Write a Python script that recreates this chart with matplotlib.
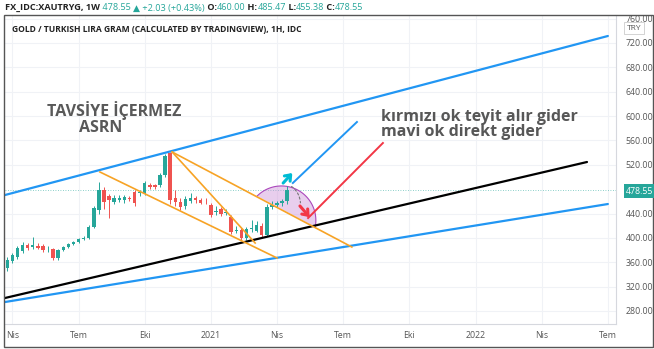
import matplotlib
matplotlib.use("Agg")
import matplotlib.pyplot as plt
import numpy as np
import pandas as pd
from matplotlib.patches import Polygon, Rectangle

# ---------------- data ----------------
first_week = "2020-03-30"
opens  = [350, 362, 369, 379, 388, 385, 387, 387, 381, 381, 367, 380, 385, 390, 393, 398,
          400, 418, 445, 478, 468, 459, 463, 462, 466, 475, 473, 474, 487, 487, 487, 503,
          539, 465, 459, 452, 461, 466, 463, 461, 454, 443, 448, 441, 434, 412, 413, 400,
          415, 412, 420, 405, 451, 454, 457, 460.00]
closes = [364, 372, 383, 388, 383, 388, 384, 380, 382, 367, 380, 385, 390, 393, 398, 400,
          418, 449, 478, 459, 462, 465, 466, 467, 464, 457, 476, 490, 484, 484, 503, 534,
          462, 459, 451, 464, 466, 462, 458, 460, 438, 444, 440, 443, 410, 413, 400, 415,
          416, 421, 405, 451, 454, 457, 460, 478.55]
highs  = [368, 376, 387, 393, 391, 401, 392, 390, 386, 383, 382, 387, 392, 395, 400, 403,
          421, 452, 492, 483, 472, 470, 470, 471, 469, 478, 479, 494, 490, 489, 506, 537,
          541, 478, 466, 468, 474, 469, 466, 465, 457, 452, 451, 448, 437, 420, 416, 418,
          430, 428, 425, 455, 460, 461, 464, 485.47]
lows   = [346, 358, 366, 376, 380, 382, 381, 377, 377, 363, 364, 378, 383, 388, 391, 396,
          398, 416, 440, 448, 433, 455, 459, 458, 460, 452, 468, 471, 480, 481, 484, 500,
          455, 452, 446, 448, 457, 458, 455, 455, 434, 438, 436, 437, 407, 408, 396, 397,
          410, 409, 402, 403, 447, 450, 453, 455.38]

ytick_values = [280, 320, 360, 400, 440, 520, 560, 600, 640, 680, 720, 760]
xtick_dates = ["2020-04-06", "2020-07-06", "2020-10-05", "2021-01-04", "2021-04-05",
               "2021-07-05", "2021-10-04", "2022-01-03", "2022-04-04", "2022-07-04"]
xtick_labels = ["Nis", "Tem", "Eki", "2021", "Nis", "Tem", "Eki", "2022", "Nis", "Tem"]

# drawn trend lines: (week index, price) end points
upper_channel_week, upper_channel_price = [-0.45, 118.0], [470.4, 731.5]
lower_channel_week, lower_channel_price = [-0.45, 118.0], [294.7, 455.6]
black_trend_week, black_trend_price = [-0.45, 113.9], [301.3, 524.6]
orange1_week, orange1_price = [18.2, 53.0], [508.2, 367.0]
orange2_week, orange2_price = [32.4, 67.7], [541.0, 385.0]
orange3_week, orange3_price = [32.4, 48.7], [541.0, 391.6]
blue_target_week, blue_target_price = [56.1, 68.7], [490.1, 590.3]
red_target_week, red_target_price = [59.1, 73.8], [432.6, 555.8]
# arc: start, top, end
arc_week, arc_price = [49.1, 55.5, 60.5], [468.8, 483.6, 417.9]
cyan_arrow_week, cyan_arrow_price = [54.2, 56.0], [490.0, 506.5]
red_arrow_week, red_arrow_price = [57.5, 59.4], [452.4, 434.0]
dotted_week, dotted_price = [55.4, 57.6], [487.0, 453.0]

last_price = 478.55

# ---------------- figure ----------------
W, H = 654, 349
fig = plt.figure(figsize=(W / 100, H / 100), dpi=100)
fig.patch.set_facecolor("white")
FAM = ["Open Sans", "DejaVu Sans"]

ax_l, ax_r, ax_t, ax_b = 5, 616, 15, 324
ax = fig.add_axes([ax_l / W, 1 - ax_b / H, (ax_r - ax_l) / W, (ax_b - ax_t) / H])
ax.set_xlim(-0.45, 119.6)
ax.set_ylim(720 - (ax_b - 43) * 1.642, 720 + (43 - ax_t) * 1.642)

start = pd.Timestamp(first_week)
xt = [(pd.Timestamp(d) - start).days / 7 for d in xtick_dates]

# grid
for v in ytick_values:
    ax.axhline(v, color="#f0f2f6", lw=0.8, zorder=0)
for x in xt:
    ax.axvline(x, color="#f0f2f6", lw=0.8, zorder=0)

# candles
n = len(opens)
idx = np.arange(n)
o = np.array(opens); c = np.array(closes); hi = np.array(highs); lo = np.array(lows)
up = c >= o
cols = np.where(up, "#26a69a", "#ef5350")
ax.vlines(idx, lo, hi, colors=cols, lw=0.7, zorder=3)
body_h = np.maximum(np.abs(c - o), 1.2)
ax.bar(idx, body_h, bottom=np.minimum(o, c), width=0.68, color=cols, zorder=4, linewidth=0)

# price line
ax.axhline(last_price, color="#26a69a", lw=0.6, ls=(0, (1, 2)), alpha=0.7, zorder=1)

# trend lines
ax.plot(upper_channel_week, upper_channel_price, color="#2196f3", lw=1.6, zorder=5, solid_capstyle="round")
ax.plot(lower_channel_week, lower_channel_price, color="#2196f3", lw=1.6, zorder=5, solid_capstyle="round")
ax.plot(black_trend_week, black_trend_price, color="#000000", lw=1.6, zorder=5, solid_capstyle="round")
for wk, pr in [(orange1_week, orange1_price), (orange2_week, orange2_price), (orange3_week, orange3_price)]:
    ax.plot(wk, pr, color="#f7a325", lw=1.2, zorder=5)
ax.plot(blue_target_week, blue_target_price, color="#2196f3", lw=1.4, zorder=6)
ax.plot(red_target_week, red_target_price, color="#f23645", lw=1.4, zorder=6)

# arc region (circle through three points, in display space)
P = ax.transData.transform(np.column_stack([arc_week, arc_price]))
(ax1, ay1), (bx, by), (cx, cy) = P
d = 2 * (ax1 * (by - cy) + bx * (cy - ay1) + cx * (ay1 - by))
ux = ((ax1**2 + ay1**2) * (by - cy) + (bx**2 + by**2) * (cy - ay1) + (cx**2 + cy**2) * (ay1 - by)) / d
uy = ((ax1**2 + ay1**2) * (cx - bx) + (bx**2 + by**2) * (ax1 - cx) + (cx**2 + cy**2) * (bx - ax1)) / d
rad = np.hypot(ax1 - ux, ay1 - uy)
a_start = np.arctan2(ay1 - uy, ax1 - ux)
a_end = np.arctan2(cy - uy, cx - ux)
if a_end > a_start:
    a_end -= 2 * np.pi
ang = np.linspace(a_start, a_end, 100)
pts = np.column_stack([ux + rad * np.cos(ang), uy + rad * np.sin(ang)])
pts_d = ax.transData.inverted().transform(pts)
ax.add_patch(Polygon(pts_d, closed=True, facecolor="#ce93d8", alpha=0.45, edgecolor="none", zorder=2))
ax.plot(pts_d[:, 0], pts_d[:, 1], color="#ab47bc", lw=0.8, zorder=2)

# arrows
arrow_style = "->,head_length=0.45,head_width=0.35"
ax.annotate("", xy=(cyan_arrow_week[1], cyan_arrow_price[1]), xytext=(cyan_arrow_week[0], cyan_arrow_price[0]),
            arrowprops=dict(arrowstyle=arrow_style, color="#00bcd4", lw=2.2, mutation_scale=8,
                            shrinkA=0, shrinkB=0), zorder=7)
ax.annotate("", xy=(red_arrow_week[1], red_arrow_price[1]), xytext=(red_arrow_week[0], red_arrow_price[0]),
            arrowprops=dict(arrowstyle=arrow_style, color="#f23645", lw=2.2, mutation_scale=8,
                            shrinkA=0, shrinkB=0), zorder=7)
ax.annotate("", xy=(dotted_week[1], dotted_price[1]), xytext=(dotted_week[0], dotted_price[0]),
            arrowprops=dict(arrowstyle="-", color="#777777", lw=0.8, ls=(0, (2, 2)),
                            connectionstyle="arc3,rad=-0.3"), zorder=7)

# axes styling
for s in ["top", "left"]:
    ax.spines[s].set_visible(False)
for s in ["right", "bottom"]:
    ax.spines[s].set_color("#d6d8de")
    ax.spines[s].set_linewidth(0.8)
ax.yaxis.tick_right()
ax.set_yticks(ytick_values)
ax.set_yticklabels([f"{v:.2f}" for v in ytick_values], fontsize=6.3, color="#555555", family=FAM)
ax.tick_params(axis="y", length=0, pad=7)
ax.set_xticks(xt)
ax.set_xticklabels(xtick_labels, fontsize=6.3, color="#555555", family=FAM)
ax.tick_params(axis="x", length=0, pad=5)

# text annotations
def px(x, y):
    return x / W, 1 - y / H

fig.text(*px(12, 30), "GOLD / TURKISH LIRA GRAM (CALCULATED BY TRADINGVIEW), 1H, IDC",
         fontsize=6.1, fontweight="bold", color="#222222", family=FAM, va="center", ha="left")
fig.text(*px(114, 116.5), "TAVSİYE İÇERMEZ", fontsize=11.5, fontweight="bold", color="#595959",
         family=FAM, va="baseline", ha="center")
fig.text(*px(101, 132.5), "ASRN", fontsize=11.5, fontweight="bold", color="#595959",
         family=FAM, va="baseline", ha="center")
fig.text(*px(381, 121), "kırmızı ok teyit alır gider", fontsize=11.5, fontweight="bold",
         color="#575757", family=FAM, va="baseline", ha="left")
fig.text(*px(381, 136), "mavi ok direkt gider", fontsize=11.5, fontweight="bold",
         color="#575757", family=FAM, va="baseline", ha="left")

# header line
renderer = fig.canvas.get_renderer()
pieces = [("FX_IDC:XAUTRYG, 1W", "#222222", "bold"),
          (" 478.55 ", "#26a69a", "normal"),
          ("▲", "#26a69a", "normal"),
          (" +2.03 (+0.43%)", "#26a69a", "normal"),
          (" O:", "#222222", "bold"), ("460.00", "#26a69a", "normal"),
          (" H:", "#222222", "bold"), ("485.47", "#26a69a", "normal"),
          (" L:", "#222222", "bold"), ("455.38", "#26a69a", "normal"),
          (" C:", "#222222", "bold"), ("478.55", "#26a69a", "normal")]
xcur = 5
for s, col, wt in pieces:
    t = fig.text(*px(xcur, 8), s, fontsize=6.6, color=col, fontweight=wt, family=FAM,
                 va="center", ha="left")
    xcur += t.get_window_extent(renderer=renderer).width

# price label & TRY box
fig.text(*px(640, 191), f"{last_price:.2f}", fontsize=6.3, color="white", family=FAM,
         va="center", ha="center",
         bbox=dict(boxstyle="square,pad=0.25", facecolor="#26a69a", edgecolor="none"))
fig.text(*px(634, 28), "TRY", fontsize=6, color="#555555", family=FAM, va="center", ha="center",
         bbox=dict(boxstyle="square,pad=0.35", facecolor="white", edgecolor="#cccccc", lw=0.6))

# outer frame
fig.patches.append(Rectangle((4 / W, 1 - 347 / H), 649 / W, 332 / H, transform=fig.transFigure,
                             fill=False, edgecolor="#555555", lw=1.0))

fig.savefig("out.png", dpi=100)
